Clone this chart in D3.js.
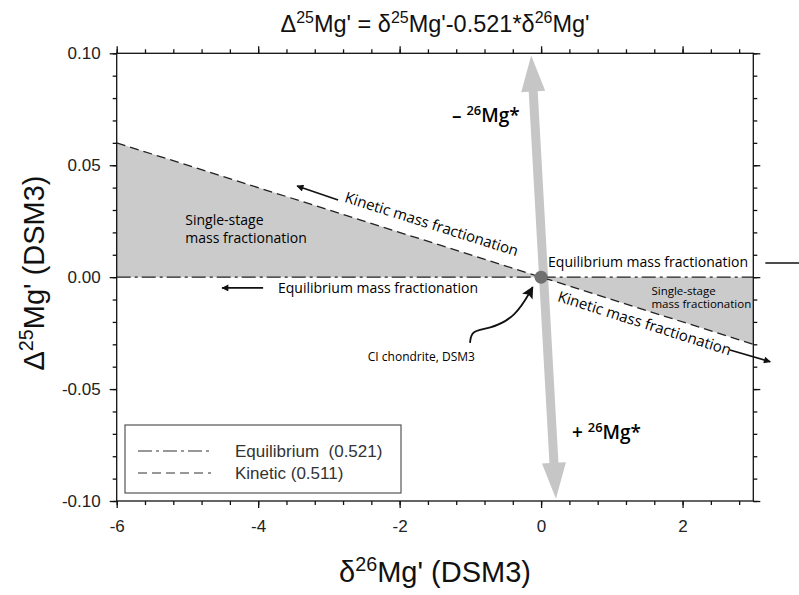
<html>
<script src="https://d3js.org/d3.v7.min.js"></script>
<style>
  body { margin: 0; background: #fff; }
  text { font-family: "Liberation Sans", Arial, sans-serif; }
  .note { font-family: "Open Sans", "Noto Sans", sans-serif; fill: #000; font-weight: 500; }
</style>
<body>
<svg width=799 height=595></svg>
<script>
// chart values
var xDomain = [-6, 3];
var yDomain = [-0.10, 0.10];
var xTicks = [-6, -4, -2, 0, 2];
var yTicks = [-0.10, -0.05, 0.00, 0.05, 0.10];
var kinetic = [[-6, 0.06], [3, -0.03]];
var equilibrium = [[-6, 0], [3, 0]];
var shadeLeft = [[-6, 0.06], [0, 0], [-6, 0]];
var shadeRight = [[0, 0], [3, -0.03], [3, 0]];
var radiogenic = [[-0.14, 0.099], [0.21, -0.099]];
var dsm3 = [0, 0];
var legendLabels = ["Equilibrium  (0.521)", "Kinetic (0.511)"];
var legendDash = ["14,4,3,4", "9,5"];

var svg = d3.select("svg");
var x = d3.scaleLinear().domain(xDomain).range([116.7, 753.3]);
var y = d3.scaleLinear().domain(yDomain).range([501, 53.3]);

var line = d3.line().x(d => x(d[0])).y(d => y(d[1]));

// markers
var defs = svg.append("defs");
defs.append("marker").attr("id", "arr").attr("viewBox", "0 0 10 10")
  .attr("refX", 9).attr("refY", 5).attr("markerWidth", 9).attr("markerHeight", 7)
  .attr("markerUnits", "userSpaceOnUse").attr("orient", "auto")
  .append("path").attr("d", "M0,0L10,5L0,10z").attr("fill", "#111");
defs.append("marker").attr("id", "fat").attr("viewBox", "0 0 10 10")
  .attr("refX", 9).attr("refY", 5).attr("markerWidth", 15).attr("markerHeight", 12)
  .attr("markerUnits", "userSpaceOnUse").attr("orient", "auto")
  .append("path").attr("d", "M0,0L10,5L0,10L2,5z").attr("fill", "#111");

// shaded regions
[shadeLeft, shadeRight].forEach(function (s) {
  svg.append("path").attr("d", line(s) + "Z").attr("fill", "#cbcbcb");
});

// big gray double arrow (radiogenic 26Mg*)
(function () {
  var p1 = [x(radiogenic[0][0]), y(radiogenic[0][1])];
  var p2 = [x(radiogenic[1][0]), y(radiogenic[1][1])];
  var dx = p2[0] - p1[0], dy = p2[1] - p1[1], L = Math.hypot(dx, dy);
  var u = [dx / L, dy / L], n = [-u[1], u[0]];
  var hl = 36, hw = 12, sw = 4.5;
  function pt(base, a, b) { return [base[0] + u[0] * a + n[0] * b, base[1] + u[1] * a + n[1] * b]; }
  var pts = [p1, pt(p1, hl, hw), pt(p1, hl, sw), pt(p2, -hl, sw), pt(p2, -hl, hw), p2,
             pt(p2, -hl, -hw), pt(p2, -hl, -sw), pt(p1, hl, -sw), pt(p1, hl, -hw)];
  svg.append("path").attr("d", "M" + pts.map(p => p.join(",")).join("L") + "Z").attr("fill", "#c6c6c6");
})();

// fractionation lines
svg.append("path").attr("d", line(equilibrium)).attr("fill", "none")
  .attr("stroke", "#222").attr("stroke-width", 1.3).attr("stroke-dasharray", legendDash[0]);
svg.append("path").attr("d", line(kinetic)).attr("fill", "none")
  .attr("stroke", "#222").attr("stroke-width", 1.3).attr("stroke-dasharray", legendDash[1]);

// DSM3 point
svg.append("circle").attr("cx", x(dsm3[0])).attr("cy", y(dsm3[1])).attr("r", 6.5).attr("fill", "#707070");

// axes
function styleAxis(g) {
  g.select(".domain").remove();
  g.selectAll("line").attr("stroke", "#111").attr("stroke-width", 1.3);
  g.selectAll("text").attr("fill", "#222").style("font-size", "17px")
    .style("font-family", "'Liberation Sans', Arial, sans-serif");
}
var xMinor = d3.range(-6, 3.01, 0.4);
var yMinor = d3.range(-0.1, 0.1001, 0.01);
var B = y.range()[0], T = y.range()[1], Lx = x.range()[0], R = x.range()[1];

svg.append("g").attr("transform", "translate(0," + B + ")")
  .call(d3.axisBottom(x).tickValues(xMinor).tickSize(4).tickFormat("")).call(styleAxis);
svg.append("g").attr("transform", "translate(0," + B + ")")
  .call(d3.axisBottom(x).tickValues(xTicks).tickSize(7).tickPadding(12).tickFormat(d => String(d))).call(styleAxis);
svg.append("g").attr("transform", "translate(0," + T + ")")
  .call(d3.axisTop(x).tickValues(xMinor).tickSize(4).tickFormat("")).call(styleAxis);
svg.append("g").attr("transform", "translate(0," + T + ")")
  .call(d3.axisTop(x).tickValues(xTicks).tickSize(7).tickFormat("")).call(styleAxis);

svg.append("g").attr("transform", "translate(" + Lx + ",0)")
  .call(d3.axisLeft(y).tickValues(yMinor).tickSize(4).tickFormat("")).call(styleAxis);
svg.append("g").attr("transform", "translate(" + Lx + ",0)")
  .call(d3.axisLeft(y).tickValues(yTicks).tickSize(7).tickPadding(9).tickFormat(d => d.toFixed(2))).call(styleAxis);
svg.append("g").attr("transform", "translate(" + R + ",0)")
  .call(d3.axisRight(y).tickValues(yMinor).tickSize(4).tickFormat("")).call(styleAxis);
svg.append("g").attr("transform", "translate(" + R + ",0)")
  .call(d3.axisRight(y).tickValues(yTicks).tickSize(7).tickFormat("")).call(styleAxis);

svg.append("rect").attr("x", Lx).attr("y", T).attr("width", R - Lx).attr("height", B - T)
  .attr("fill", "none").attr("stroke", "#111").attr("stroke-width", 1.3);

// text with superscripts
function richText(g, parts, size, supShift) {
  parts.forEach(function (p) {
    var sup = p[1];
    g.append("tspan").text(p[0])
      .style("font-size", (sup ? size * 0.68 : size) + "px")
      .attr("dy", sup ? -supShift : (p[2] ? supShift : 0));
  });
}

// title
var title = svg.append("text").attr("x", 435).attr("y", 32).attr("text-anchor", "middle").attr("fill", "#111");
richText(title, [["\u0394"], ["25", 1], ["Mg' = \u03b4", 0, 1], ["25", 1], ["Mg'-0.521*\u03b4", 0, 1], ["26", 1], ["Mg'", 0, 1]], 23.5, 9);

// axis titles
var xt = svg.append("text").attr("x", 435).attr("y", 582).attr("text-anchor", "middle").attr("fill", "#111");
richText(xt, [["\u03b4"], ["26", 1], ["Mg' (DSM3)", 0, 1]], 29, 11);
var yt = svg.append("text").attr("transform", "translate(44,273) rotate(-90)").attr("text-anchor", "middle").attr("fill", "#111");
richText(yt, [["\u0394"], ["25", 1], ["Mg' (DSM3)", 0, 1]], 29, 11);

// annotations
var kAngle = Math.atan2(y(kinetic[1][1]) - y(kinetic[0][1]), x(kinetic[1][0]) - x(kinetic[0][0])) * 180 / Math.PI;

function note(px, py, str, size, anchor, angle) {
  return svg.append("text").attr("class", "note")
    .attr("transform", "translate(" + x(px) + "," + y(py) + ")" + (angle ? " rotate(" + angle + ")" : ""))
    .attr("text-anchor", anchor || "start").style("font-size", size + "px")
    .text(str);
}
note(-1.57, 0.0215, "Kinetic mass fractionation", 15, "middle", kAngle);
note(1.44, -0.0228, "Kinetic mass fractionation", 15, "middle", kAngle);
note(-3.72, -0.0071, "Equilibrium mass fractionation", 14, "start");
note(0.098, 0.0045, "Equilibrium mass fractionation", 14, "start");
note(-5.03, 0.0233, "Single-stage", 14, "start");
note(-5.03, 0.0153, "mass fractionation", 14, "start");
note(1.56, -0.0078, "Single-stage", 11.5, "start");
note(1.56, -0.0140, "mass fractionation", 11.5, "start");
note(-0.935, -0.0375, "CI chondrite, DSM3", 12, "end");

function isoNote(px, py, sign) {
  var t = svg.append("text").attr("class", "note")
    .attr("x", x(px)).attr("y", y(py)).style("font-weight", 600);
  richText(t, [[sign + " "], ["26", 1], ["Mg*", 0, 1]], 19, 7);
}
isoNote(-1.26, 0.0693, "\u2013");
isoNote(0.437, -0.0723, "+");

// small direction arrows
var arrows = [
  [[-2.87, 0.0345], [-3.45, 0.0407]],
  [[2.67, -0.0325], [3.24, -0.0378]],
  [[-3.93, -0.0048], [-4.51, -0.0048]]
];
arrows.forEach(function (a) {
  svg.append("path").attr("d", line(a)).attr("stroke", "#111").attr("stroke-width", 1.6)
    .attr("fill", "none").attr("marker-end", "url(#arr)");
});
svg.append("path").attr("d", line([[3.17, 0.0063], [3.65, 0.0063]])).attr("stroke", "#111").attr("stroke-width", 1.6);

// curved pointer to DSM3
var curve = [[-1.005, -0.0294], [-0.985, -0.0238], [-0.74, -0.0232], [-0.36, -0.0180], [-0.12, -0.0045]];
svg.append("path").attr("d", d3.line().x(d => x(d[0])).y(d => y(d[1])).curve(d3.curveBasis)(curve))
  .attr("fill", "none").attr("stroke", "#111").attr("stroke-width", 1.8).attr("marker-end", "url(#fat)");

// legend
var lg = svg.append("g");
lg.append("rect").attr("x", 125).attr("y", 425).attr("width", 276).attr("height", 68)
  .attr("fill", "#fff").attr("stroke", "#555").attr("stroke-width", 1.2);
legendLabels.forEach(function (lab, i) {
  var yy = 451 + i * 22;
  lg.append("line").attr("x1", 138).attr("x2", 211).attr("y1", yy).attr("y2", yy)
    .attr("stroke", "#333").attr("stroke-width", 1.2).attr("stroke-dasharray", legendDash[i]);
  lg.append("text").attr("x", 235).attr("y", yy + 6).style("font-size", "17px")
    .style("white-space", "pre").attr("fill", "#333").text(lab);
});
</script>
</body>
</html>
